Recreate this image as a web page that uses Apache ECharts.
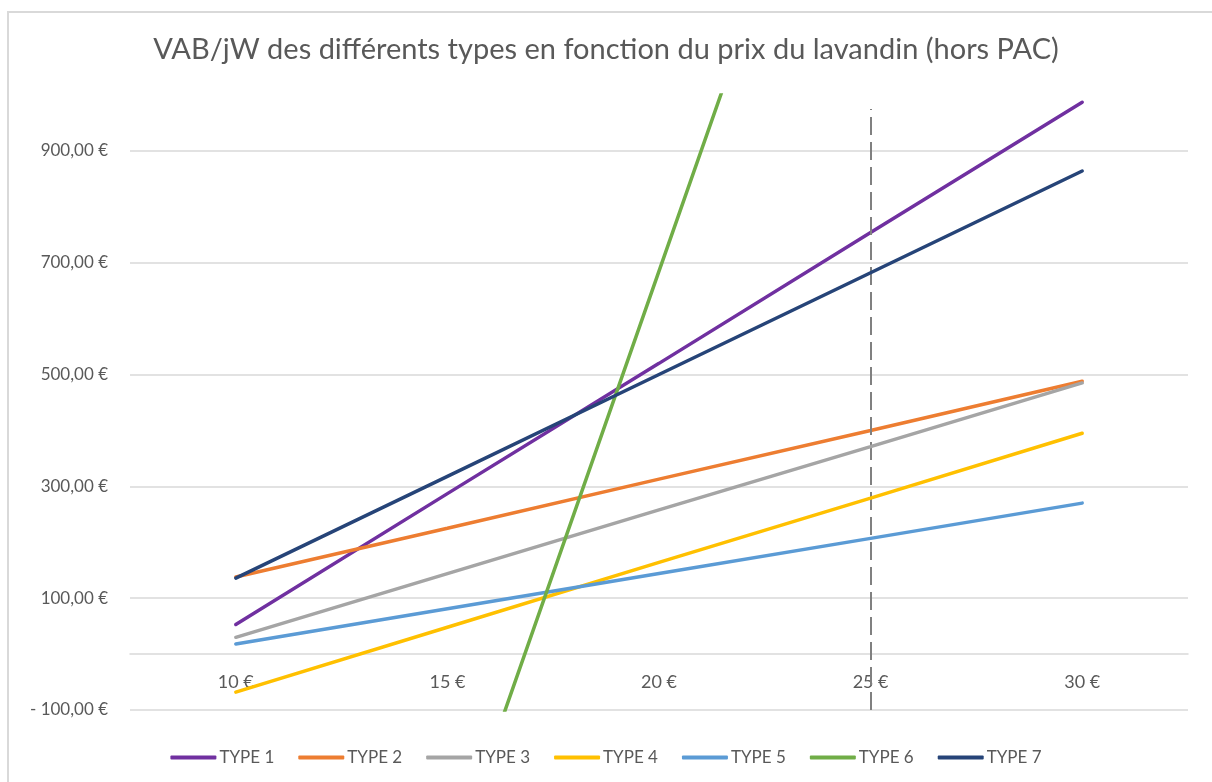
<!DOCTYPE html>
<html>
<head>
<meta charset="utf-8">
<script src="https://cdn.jsdelivr.net/npm/echarts@6/dist/echarts.min.js"></script>
<style>
  html, body { margin: 0; padding: 0; background: #fff; }
  #chart { width: 1212px; height: 782px; }
</style>
</head>
<body>
<div id="chart"></div>
<script>
const categories = ["10 €", "15 €", "20 €", "25 €", "30 €"];
const type1 = [53, 287, 520, 754, 987];
const type2 = [138, 225, 313, 400, 488];
const type3 = [30, 144, 258, 371, 485];
const type4 = [-68, 48, 164, 279, 395];
const type5 = [18, 81, 144, 207, 270];
const type6 = [-1475, -395, 685, 1765, 2845];
const type7 = [136, 318, 500, 682, 864];
const names = ["TYPE 1", "TYPE 2", "TYPE 3", "TYPE 4", "TYPE 5", "TYPE 6", "TYPE 7"];
const colors = ["#7030A0", "#ED7D31", "#A5A5A5", "#FFC000", "#5B9BD5", "#70AD47", "#264478"];
const seriesData = [type1, type2, type3, type4, type5, type6, type7];
// vertical reference line at 25 €
const refLine = { index: 3, from: -100, to: 975 };
const yMin = -100, yMax = 1000;

const font = "Lato, 'Open Sans', sans-serif";
const chart = echarts.init(document.getElementById("chart"));

const grid = { left: 130, right: 24, top: 95, bottom: 72 };
const plotH = 782 - grid.top - grid.bottom;
// x axis sits on the 0 line
const zeroOffset = -plotH * (0 - yMin) / (yMax - yMin);

const fmt = (v) => {
  const s = Math.abs(v).toFixed(2).replace(".", ",") + " €";
  return v < 0 ? "- " + s : s;
};

const series = seriesData.map((d, i) => ({
  name: names[i],
  type: "line",
  data: d,
  showSymbol: false,
  symbol: "none",
  lineStyle: { width: 3.5, color: colors[i], cap: "round" },
  itemStyle: { color: colors[i] },
  z: 3 + i,
}));

series.push({
  name: "ref",
  type: "line",
  data: [],
  markLine: {
    silent: true,
    symbol: "none",
    label: { show: false },
    lineStyle: { color: "#808080", width: 2, type: [18, 7] },
    data: [[{ coord: [refLine.index, refLine.from] }, { coord: [refLine.index, refLine.to] }]],
  },
});

chart.setOption({
  animation: false,
  backgroundColor: "#fff",
  graphic: [{
    type: "rect",
    shape: { x: 8, y: 12, width: 1400, height: 1000 },
    style: { fill: "none", stroke: "#D9D9D9", lineWidth: 2 },
    silent: true,
  }],
  title: {
    text: "VAB/jW des différents types en fonction du prix du lavandin (hors PAC)",
    left: "center",
    top: 30,
    textStyle: { fontFamily: font, fontSize: 29, fontWeight: "normal", color: "#595959" },
  },
  legend: {
    data: names,
    left: "center",
    top: 744,
    icon: "roundRect",
    itemWidth: 46,
    itemHeight: 4,
    itemGap: 24,
    textStyle: { fontFamily: font, fontSize: 17, color: "#595959", padding: [0, 0, 0, -2] },
  },
  grid: Object.assign({ containLabel: false }, grid),
  xAxis: {
    type: "category",
    data: categories,
    boundaryGap: true,
    position: "bottom",
    offset: zeroOffset,
    axisTick: { show: false },
    axisLine: { onZero: false, lineStyle: { color: "#D9D9D9", width: 1.5 } },
    axisLabel: { fontFamily: font, fontSize: 18, color: "#595959", margin: 19 },
  },
  yAxis: {
    type: "value",
    min: yMin,
    max: yMax,
    interval: 200,
    axisLine: { show: false },
    axisTick: { show: false },
    splitLine: { showMaxLine: false, lineStyle: { color: "#D9D9D9", width: 1.5 } },
    axisLabel: {
      fontFamily: font, fontSize: 17, color: "#595959", margin: 22,
      showMaxLabel: false,
      formatter: (v) => (v === yMax ? "" : fmt(v)),
    },
  },
  series: series,
});
</script>
</body>
</html>
